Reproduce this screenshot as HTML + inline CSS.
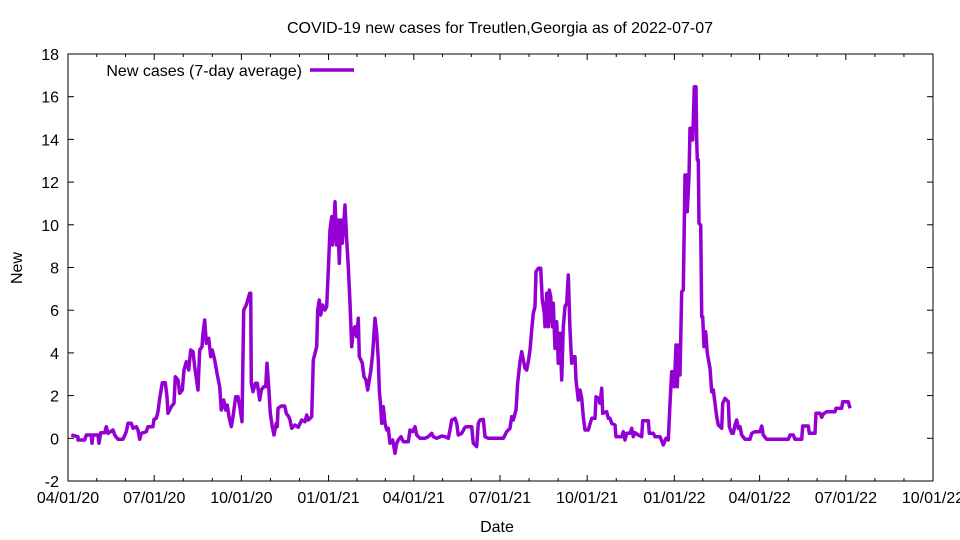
<!DOCTYPE html>
<html><head><meta charset="utf-8"><style>
body{margin:0;background:#fff;}
svg{display:block;font-family:"Liberation Sans",sans-serif;}
</style></head><body>
<svg id="s" width="960" height="540" xmlns="http://www.w3.org/2000/svg">
<rect x="0" y="0" width="960" height="540" fill="#fff"/>
<text x="500" y="33" font-size="16" text-anchor="middle">COVID-19 new cases for Treutlen,Georgia as of 2022-07-07</text>
<g id="ax" stroke="#000" stroke-width="1" fill="none"></g>
<g id="lb" font-size="16" fill="#000"></g>
<text x="497" y="532" font-size="16" text-anchor="middle">Date</text>
<text x="22" y="268" font-size="16" text-anchor="middle" transform="rotate(-90 22 268)">New</text>
<text x="302" y="76" font-size="16" text-anchor="end">New cases (7-day average)</text>
<line x1="310" y1="70" x2="354" y2="70" stroke="#9400d3" stroke-width="3.5"/>
<polyline id="pl" fill="none" stroke="#9400d3" stroke-width="3.5" stroke-linejoin="round"/>
</svg>
<script>
var ns="http://www.w3.org/2000/svg";
var ax=document.getElementById('ax'),lb=document.getElementById('lb');
function el(p,t,a,txt){var e=document.createElementNS(ns,t);for(var k in a)e.setAttribute(k,a[k]);if(txt!=null)e.textContent=txt;p.appendChild(e);return e;}
var L=68,R=933,T=54,B=481;
el(ax,'rect',{x:L,y:T,width:R-L,height:B-T});
for(var v=-2;v<=18;v+=2){var y=B-(v+2)*(B-T)/20;
el(ax,'line',{x1:L,y1:y,x2:L+6,y2:y});el(ax,'line',{x1:R,y1:y,x2:R-6,y2:y});
el(lb,'text',{x:L-9,y:y+6,'text-anchor':'end'},String(v));}
var days=[0,91,183,275,365,456,548,640,730,821,913];
var labs=["04/01/20","07/01/20","10/01/20","01/01/21","04/01/21","07/01/21","10/01/21","01/01/22","04/01/22","07/01/22","10/01/22"];
for(var i=0;i<days.length;i++){var x=L+days[i]*(R-L)/913;
el(ax,'line',{x1:x,y1:B,x2:x,y2:B-6});el(ax,'line',{x1:x,y1:T,x2:x,y2:T+6});
el(lb,'text',{x:x,y:B+22,'text-anchor':'middle'},labs[i]);
if(i<days.length-1){for(var m=1;m<3;m++){var xm=L+(days[i]+(days[i+1]-days[i])*m/3)*(R-L)/913;
el(ax,'line',{x1:xm,y1:B,x2:xm,y2:B-3});el(ax,'line',{x1:xm,y1:T,x2:xm,y2:T+3});}}}
var z1=[10,465,30,470,30,480,50,480,55,465,70,465,72,490,75,465,90,465,93,490,98,458,110,458,115,440,120,460,135,450,140,465,150,478,165,478,175,455,180,430,190,430,195,445,205,440,210,450,215,478,220,460,235,455,240,440,255,440,258,418,265,415,270,395,275,355,283,308,292,308,297,350,300,400,310,380,318,370,322,290,330,300,335,340,343,330,348,270,355,245,362,270,368,210,375,215,380,260,390,330,395,210,402,200,405,160,410,120,415,190,422,175,428,230,433,210,440,240,447,280,455,320,460,390,467,360,473,390,478,375,483,410,490,440,495,410,503,350,510,350,517,390,522,425,527,90,535,75,545,40,548,40,550,310,555,335,562,310,568,310,575,360,580,330,587,320,593,320,597,250,602,320,607,400,613,440,618,465,625,430,628,440,630,385,640,378,650,378,655,400,662,410];
var z2=[0,690,5,715,15,705,25,712,35,690,45,695,50,675,55,690,65,680,70,510,75,490,80,470,83,360,88,330,92,375,98,345,105,360,110,350,115,240,120,120,125,80,128,165,132,100,135,35,140,165,143,90,148,220,152,90,157,160,160,120,165,45,170,150,175,230,180,340,185,470,190,420,195,410,200,440,205,385,208,500,213,510,217,520,222,560,228,570,233,600,238,570,242,545,248,490,255,385,260,430,265,510,268,600,272,650,275,700,280,650,285,700,290,720,295,715,300,760,308,750,315,790,320,760,325,750,333,740,340,755,355,755,360,720,368,725,375,710,380,735,390,745,405,745,415,740,425,730,430,740,440,745,455,738,465,740,475,745,480,720,485,690,495,685,500,700,505,735,515,730,525,712,530,710,545,710,550,760,560,770,565,700,570,690,580,688,585,740,595,745,640,745,650,725,660,715,665,680,670,690,678,660,683,578,690,515,695,485,700,510,705,535,710,540,715,515,720,480,725,420,730,370,735,350,738,245,745,235,752,235,757,330,763,370,765,410,770,310,775,410,778,300,782,320,787,410,790,340,795,475,800,395,805,520,810,430,815,570,820,410,825,350,830,340,835,255,840,420,845,520,850,500,855,500,858,570,865,630];
var z3=[0,960,5,985,10,1040,15,1080,25,1080,35,1045,45,1045,48,980,55,985,60,1000,65,955,68,1030,80,1025,85,1045,90,1045,95,1060,105,1065,108,1100,125,1100,130,1085,135,1110,140,1090,150,1090,155,1075,160,1100,165,1088,175,1095,185,1100,188,1052,205,1052,208,1090,220,1090,225,1100,240,1100,250,1125,258,1105,265,1110,270,1000,275,905,280,905,283,950,288,825,292,950,296,825,300,915,305,665,310,660,315,315,320,315,322,425,327,320,330,175,335,175,338,210,343,50,348,50,350,210,352,270,355,270,357,460,362,465,365,740,368,740,372,830,377,785,382,850,390,895,395,965,400,960,405,1000,410,1040,415,1065,425,1075,428,1000,435,985,445,995,448,1070,455,1090,460,1090,465,1065,470,1050,475,1075,480,1070,485,1095,495,1108,510,1108,515,1090,525,1085,540,1085,545,1068,550,1095,560,1108,625,1108,630,1095,640,1095,645,1108,665,1108,668,1068,685,1068,688,1090,705,1090,708,1030,720,1030,725,1042,730,1032,740,1025,765,1025,768,1015,785,1015,788,995,805,995,810,1015];
var pts=[];
function add(z,ox,oy){for(var i=0;i<z.length;i+=2)pts.push((ox+z[i]/3).toFixed(1)+","+(oy+z[i+1]/3).toFixed(1));}
add(z1,68,280);add(z2,290,190);add(z3,580,70);
document.getElementById('pl').setAttribute('points',pts.join(' '));
</script>
</body></html>
